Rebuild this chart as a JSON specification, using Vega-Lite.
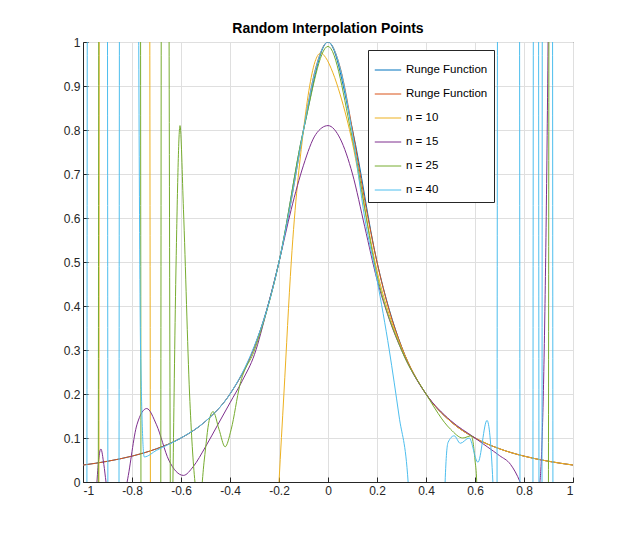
{
"$schema":"https://vega.github.io/schema/vega-lite/v6.json",
"width":490,"height":440,"autosize":"none",
"padding":{"left":83,"top":42,"right":61,"bottom":58},
"background":"white",
"config":{"font":"Liberation Sans","view":{"stroke":"#262626","strokeWidth":1},
"axis":{"grid":true,"gridColor":"#dfdfdf","domainColor":"#262626","tickColor":"#262626","labelColor":"#262626","labelFontSize":12,"tickSize":-5,"labelPadding":8,"title":null,"labelFont":"Liberation Sans"}},
"title":{"text":"Random Interpolation Points","fontSize":14,"fontWeight":"bold","color":"#000","offset":0,"font":"Liberation Sans"},
"data":{"values":[
{"s":"Runge Function 1","x":-1,"y":0.0385},{"s":"Runge Function 1","x":-0.9,"y":0.0471},{"s":"Runge Function 1","x":-0.8,"y":0.0588},{"s":"Runge Function 1","x":-0.7,"y":0.0755},{"s":"Runge Function 1","x":-0.6,"y":0.1},{"s":"Runge Function 1","x":-0.5,"y":0.1379},{"s":"Runge Function 1","x":-0.4,"y":0.2},{"s":"Runge Function 1","x":-0.3,"y":0.3077},{"s":"Runge Function 1","x":-0.2,"y":0.5},{"s":"Runge Function 1","x":-0.1,"y":0.8},{"s":"Runge Function 1","x":0,"y":1},{"s":"Runge Function 1","x":0.1,"y":0.8},{"s":"Runge Function 1","x":0.2,"y":0.5},{"s":"Runge Function 1","x":0.3,"y":0.3077},{"s":"Runge Function 1","x":0.4,"y":0.2},{"s":"Runge Function 1","x":0.5,"y":0.1379},{"s":"Runge Function 1","x":0.6,"y":0.1},{"s":"Runge Function 1","x":0.7,"y":0.0755},{"s":"Runge Function 1","x":0.8,"y":0.0588},{"s":"Runge Function 1","x":0.9,"y":0.0471},{"s":"Runge Function 1","x":1,"y":0.0385},
{"s":"Runge Function 2","x":-1,"y":0.0385},{"s":"Runge Function 2","x":-0.95,"y":0.0424},{"s":"Runge Function 2","x":-0.9,"y":0.0471},{"s":"Runge Function 2","x":-0.85,"y":0.0525},{"s":"Runge Function 2","x":-0.8,"y":0.0588},{"s":"Runge Function 2","x":-0.75,"y":0.0664},{"s":"Runge Function 2","x":-0.7,"y":0.0755},{"s":"Runge Function 2","x":-0.6,"y":0.1},{"s":"Runge Function 2","x":-0.5,"y":0.1379},{"s":"Runge Function 2","x":-0.4,"y":0.2},{"s":"Runge Function 2","x":-0.3,"y":0.3077},{"s":"Runge Function 2","x":-0.25,"y":0.3902},{"s":"Runge Function 2","x":-0.2,"y":0.5},{"s":"Runge Function 2","x":-0.15,"y":0.64},{"s":"Runge Function 2","x":-0.1,"y":0.8},{"s":"Runge Function 2","x":-0.05,"y":0.9412},{"s":"Runge Function 2","x":0,"y":1},{"s":"Runge Function 2","x":0.05,"y":0.9412},{"s":"Runge Function 2","x":0.1,"y":0.8},{"s":"Runge Function 2","x":0.15,"y":0.64},{"s":"Runge Function 2","x":0.2,"y":0.5},{"s":"Runge Function 2","x":0.25,"y":0.3902},{"s":"Runge Function 2","x":0.3,"y":0.3077},{"s":"Runge Function 2","x":0.4,"y":0.2},{"s":"Runge Function 2","x":0.5,"y":0.1379},{"s":"Runge Function 2","x":0.6,"y":0.1},{"s":"Runge Function 2","x":0.7,"y":0.0755},{"s":"Runge Function 2","x":0.8,"y":0.0588},{"s":"Runge Function 2","x":0.9,"y":0.0471},{"s":"Runge Function 2","x":1,"y":0.0385},
{"s":"n = 10","x":-1,"y":-3},{"s":"n = 10","x":-0.94,"y":-3},{"s":"n = 10","x":-0.93,"y":3},{"s":"n = 10","x":-0.735,"y":3},{"s":"n = 10","x":-0.715,"y":-3},{"s":"n = 10","x":-0.4,"y":-3},{"s":"n = 10","x":-0.2,"y":0},{"s":"n = 10","x":-0.18,"y":0.2},{"s":"n = 10","x":-0.15,"y":0.5},{"s":"n = 10","x":-0.1,"y":0.8},{"s":"n = 10","x":-0.05,"y":0.96},{"s":"n = 10","x":-0.03,"y":0.975},{"s":"n = 10","x":-0.01,"y":0.965},{"s":"n = 10","x":0.02,"y":0.93},{"s":"n = 10","x":0.05,"y":0.88},{"s":"n = 10","x":0.1,"y":0.77},{"s":"n = 10","x":0.15,"y":0.62},{"s":"n = 10","x":0.2,"y":0.48},{"s":"n = 10","x":0.25,"y":0.38},{"s":"n = 10","x":0.3,"y":0.305},{"s":"n = 10","x":0.4,"y":0.2},{"s":"n = 10","x":0.5,"y":0.1379},{"s":"n = 10","x":0.6,"y":0.1},{"s":"n = 10","x":0.7,"y":0.0755},{"s":"n = 10","x":0.8,"y":0.0588},{"s":"n = 10","x":0.9,"y":0.0471},{"s":"n = 10","x":1,"y":0.0385},
{"s":"n = 15","x":-0.97,"y":-0.5},{"s":"n = 15","x":-0.943,"y":0},{"s":"n = 15","x":-0.927,"y":0.075},{"s":"n = 15","x":-0.915,"y":0.04},{"s":"n = 15","x":-0.906,"y":0},{"s":"n = 15","x":-0.87,"y":-0.1},{"s":"n = 15","x":-0.82,"y":0},{"s":"n = 15","x":-0.78,"y":0.13},{"s":"n = 15","x":-0.74,"y":0.167},{"s":"n = 15","x":-0.7,"y":0.13},{"s":"n = 15","x":-0.65,"y":0.05},{"s":"n = 15","x":-0.59,"y":0.015},{"s":"n = 15","x":-0.55,"y":0.035},{"s":"n = 15","x":-0.5,"y":0.08},{"s":"n = 15","x":-0.45,"y":0.13},{"s":"n = 15","x":-0.4,"y":0.18},{"s":"n = 15","x":-0.35,"y":0.23},{"s":"n = 15","x":-0.3,"y":0.29},{"s":"n = 15","x":-0.25,"y":0.39},{"s":"n = 15","x":-0.2,"y":0.5},{"s":"n = 15","x":-0.15,"y":0.62},{"s":"n = 15","x":-0.1,"y":0.72},{"s":"n = 15","x":-0.05,"y":0.79},{"s":"n = 15","x":0,"y":0.81},{"s":"n = 15","x":0.05,"y":0.78},{"s":"n = 15","x":0.1,"y":0.7},{"s":"n = 15","x":0.15,"y":0.58},{"s":"n = 15","x":0.2,"y":0.46},{"s":"n = 15","x":0.25,"y":0.37},{"s":"n = 15","x":0.3,"y":0.3},{"s":"n = 15","x":0.4,"y":0.2},{"s":"n = 15","x":0.5,"y":0.14},{"s":"n = 15","x":0.6,"y":0.1},{"s":"n = 15","x":0.65,"y":0.08},{"s":"n = 15","x":0.7,"y":0.06},{"s":"n = 15","x":0.745,"y":0.04},{"s":"n = 15","x":0.784,"y":0},{"s":"n = 15","x":0.82,"y":-0.06},{"s":"n = 15","x":0.85,"y":-0.04},{"s":"n = 15","x":0.865,"y":0},{"s":"n = 15","x":0.9,"y":1.1},{"s":"n = 15","x":0.92,"y":3},
{"s":"n = 25","x":-1,"y":-3},{"s":"n = 25","x":-0.945,"y":-3},{"s":"n = 25","x":-0.93,"y":3},{"s":"n = 25","x":-0.77,"y":3},{"s":"n = 25","x":-0.757,"y":-3},{"s":"n = 25","x":-0.69,"y":-3},{"s":"n = 25","x":-0.675,"y":3},{"s":"n = 25","x":-0.66,"y":3},{"s":"n = 25","x":-0.64,"y":-0.3},{"s":"n = 25","x":-0.633,"y":0},{"s":"n = 25","x":-0.62,"y":0.5},{"s":"n = 25","x":-0.604,"y":0.81},{"s":"n = 25","x":-0.59,"y":0.62},{"s":"n = 25","x":-0.565,"y":0.2},{"s":"n = 25","x":-0.543,"y":0},{"s":"n = 25","x":-0.525,"y":-0.05},{"s":"n = 25","x":-0.505,"y":0.05},{"s":"n = 25","x":-0.485,"y":0.14},{"s":"n = 25","x":-0.469,"y":0.16},{"s":"n = 25","x":-0.445,"y":0.12},{"s":"n = 25","x":-0.42,"y":0.08},{"s":"n = 25","x":-0.395,"y":0.12},{"s":"n = 25","x":-0.36,"y":0.22},{"s":"n = 25","x":-0.3,"y":0.3},{"s":"n = 25","x":-0.2,"y":0.5},{"s":"n = 25","x":-0.1,"y":0.8},{"s":"n = 25","x":0,"y":0.99},{"s":"n = 25","x":0.1,"y":0.78},{"s":"n = 25","x":0.2,"y":0.47},{"s":"n = 25","x":0.3,"y":0.3},{"s":"n = 25","x":0.4,"y":0.2},{"s":"n = 25","x":0.5,"y":0.12},{"s":"n = 25","x":0.55,"y":0.1},{"s":"n = 25","x":0.585,"y":0.105},{"s":"n = 25","x":0.6,"y":0.05},{"s":"n = 25","x":0.607,"y":0},{"s":"n = 25","x":0.63,"y":-3},{"s":"n = 25","x":0.89,"y":-3},{"s":"n = 25","x":0.905,"y":3},
{"s":"n = 40","x":-1,"y":-3},{"s":"n = 40","x":-0.99,"y":-3},{"s":"n = 40","x":-0.978,"y":3},{"s":"n = 40","x":-0.905,"y":3},{"s":"n = 40","x":-0.892,"y":-3},{"s":"n = 40","x":-0.86,"y":-3},{"s":"n = 40","x":-0.846,"y":3},{"s":"n = 40","x":-0.79,"y":3},{"s":"n = 40","x":-0.765,"y":0.3},{"s":"n = 40","x":-0.75,"y":0.057},{"s":"n = 40","x":-0.7,"y":0.072},{"s":"n = 40","x":-0.6,"y":0.1},{"s":"n = 40","x":-0.5,"y":0.138},{"s":"n = 40","x":-0.4,"y":0.2},{"s":"n = 40","x":-0.3,"y":0.31},{"s":"n = 40","x":-0.25,"y":0.39},{"s":"n = 40","x":-0.2,"y":0.5},{"s":"n = 40","x":-0.15,"y":0.64},{"s":"n = 40","x":-0.1,"y":0.8},{"s":"n = 40","x":-0.05,"y":0.94},{"s":"n = 40","x":0,"y":1},{"s":"n = 40","x":0.05,"y":0.94},{"s":"n = 40","x":0.1,"y":0.79},{"s":"n = 40","x":0.15,"y":0.6},{"s":"n = 40","x":0.2,"y":0.46},{"s":"n = 40","x":0.25,"y":0.3},{"s":"n = 40","x":0.29,"y":0.15},{"s":"n = 40","x":0.327,"y":0},{"s":"n = 40","x":0.35,"y":-2},{"s":"n = 40","x":0.45,"y":-2},{"s":"n = 40","x":0.478,"y":0},{"s":"n = 40","x":0.49,"y":0.09},{"s":"n = 40","x":0.515,"y":0.105},{"s":"n = 40","x":0.54,"y":0.088},{"s":"n = 40","x":0.576,"y":0.1},{"s":"n = 40","x":0.612,"y":0.045},{"s":"n = 40","x":0.649,"y":0.14},{"s":"n = 40","x":0.673,"y":0},{"s":"n = 40","x":0.683,"y":-3},{"s":"n = 40","x":0.697,"y":3},{"s":"n = 40","x":0.777,"y":3},{"s":"n = 40","x":0.79,"y":-3},{"s":"n = 40","x":0.83,"y":-3},{"s":"n = 40","x":0.843,"y":3},{"s":"n = 40","x":0.855,"y":3},{"s":"n = 40","x":0.867,"y":-3},{"s":"n = 40","x":0.869,"y":-3},{"s":"n = 40","x":0.878,"y":3},{"s":"n = 40","x":0.912,"y":3},{"s":"n = 40","x":0.924,"y":-3},{"s":"n = 40","x":1,"y":-3}
]},
"mark":{"type":"line","clip":true,"strokeWidth":1,"interpolate":"monotone"},
"encoding":{
"x":{"field":"x","type":"quantitative","scale":{"domain":[-1,1],"nice":false},"axis":{"values":[-1,-0.8,-0.6,-0.4,-0.2,0,0.2,0.4,0.6,0.8,1],"labelExpr":"'' + datum.value"}},
"y":{"field":"y","type":"quantitative","scale":{"domain":[0,1],"nice":false,"zero":false},"axis":{"values":[0,0.1,0.2,0.3,0.4,0.5,0.6,0.7,0.8,0.9,1],"labelExpr":"'' + datum.value"}},
"color":{"field":"s","type":"nominal","scale":{"domain":["Runge Function 1","Runge Function 2","n = 10","n = 15","n = 25","n = 40"],"range":["#0072BD","#D95319","#EDB120","#7E2F8E","#77AC30","#4DBEEE"]},
"legend":{"title":null,"orient":"none","legendX":285,"legendY":8,"symbolType":"stroke","symbolSize":700,"symbolStrokeWidth":1,"labelFontSize":11.5,"labelColor":"#000","rowPadding":4,"padding":6,"fillColor":"white","strokeColor":"#262626","labelExpr":"indexof(datum.label,'Runge')>=0 ? 'Runge Function' : datum.label"}}
}
}
